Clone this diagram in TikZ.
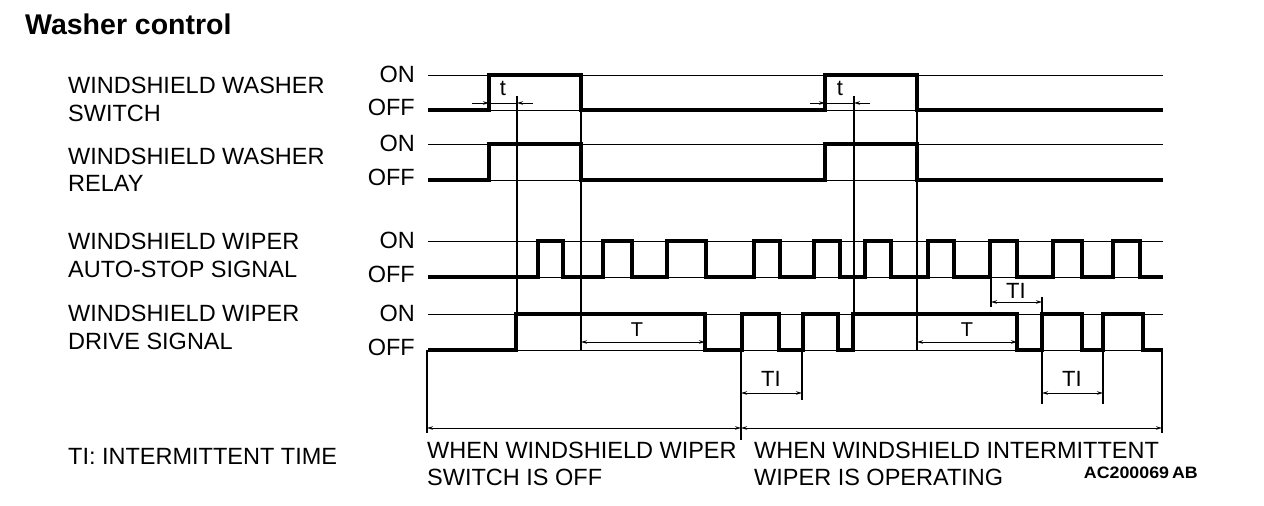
\documentclass[tikz,border=0pt]{standalone}
\usepackage{fontspec}
\setmainfont{Liberation Sans}
\usetikzlibrary{arrows.meta}
\begin{document}
\begin{tikzpicture}[x=1pt,y=-1pt,
  sig/.style={line width=3.3pt,line join=miter},
  refl/.style={line width=0.9pt},
  vline/.style={line width=1.3pt},
  dimarr/.style={line width=1pt,-{Stealth[length=6pt,width=3.5pt]}},
  dimboth/.style={line width=1pt,{Stealth[length=6pt,width=3.5pt]}-{Stealth[length=6pt,width=3.5pt]}},
  lbl/.style={inner sep=0pt,anchor=west,font=\fontsize{23.5}{28}\selectfont},
  lvl/.style={inner sep=0pt,anchor=east,font=\fontsize{23.5}{28}\selectfont},
  dimlbl/.style={inner sep=0pt,font=\fontsize{22}{26}\selectfont},
  Tlbl/.style={inner sep=0pt,font=\fontsize{20}{24}\selectfont}]
\path[use as bounding box,fill=white] (0,0) rectangle (1264,506);

% title
\node[inner sep=0pt,anchor=west,font=\bfseries\fontsize{28.5}{32}\selectfont] (title) at (25,24) {Washer control};

% left labels
\node[lbl] (l1a) at (68,85) {WINDSHIELD WASHER};
\node[lbl] (l1b) at (68,113) {SWITCH};
\node[lbl] (l2a) at (68,156) {WINDSHIELD WASHER};
\node[lbl] (l2b) at (68,183) {RELAY};
\node[lbl] (l3a) at (68,241) {WINDSHIELD WIPER};
\node[lbl] (l3b) at (68,269) {AUTO-STOP SIGNAL};
\node[lbl] (l4a) at (68,313) {WINDSHIELD WIPER};
\node[lbl] (l4b) at (68,341) {DRIVE SIGNAL};
\node[lbl] (legend) at (68,456) {TI: INTERMITTENT TIME};

% ON/OFF levels
\node[lvl] (on1) at (415,74) {ON};
\node[lvl] (off1) at (415,107) {OFF};
\node[lvl] (on2) at (415,143) {ON};
\node[lvl] (off2) at (415,177) {OFF};
\node[lvl] (on3) at (415,240) {ON};
\node[lvl] (off3) at (415,274) {OFF};
\node[lvl] (on4) at (415,313) {ON};
\node[lvl] (off4) at (415,347) {OFF};

% reference lines
\foreach \yy in {75,110,144,180,241,277,314,350}
  \draw[refl] (428,\yy) -- (1163,\yy);

% signals
\draw[sig] (428,110) -| (489,75) -| (581,110) -| (825,75) -| (917,110) -- (1163,110);
\draw[sig] (428,180) -| (489,144) -| (581,180) -| (825,144) -| (917,180) -- (1163,180);
\draw[sig] (428,277) -| (538,241) -| (563,277) -| (603,241) -| (632,277)
  -| (667,241) -| (706,277) -| (754,241) -| (780,277) -| (814,241) -| (840,277)
  -| (865,241) -| (891,277) -| (928,241) -| (954,277) -| (990,241) -| (1017,277)
  -| (1053,241) -| (1082,277) -| (1113,241) -| (1140,277) -- (1163,277);
\draw[sig] (428,350) -| (516,314) -| (705,350) -| (742,314) -| (779,350)
  -| (803,314) -| (838,350) -| (853,314) -| (1017,350) -| (1042,314)
  -| (1082,350) -| (1103,314) -| (1143,350) -- (1163,350);

% vertical construction lines
\draw[vline] (517,96) -- (517,350);
\draw[vline] (581,110) -- (581,350);
\draw[vline] (854,96) -- (854,350);
\draw[vline] (917,110) -- (917,350);
\draw[vline] (427,350) -- (427,433);
\draw[vline] (741,350) -- (741,440);
\draw[vline] (802,350) -- (802,400);
\draw[vline] (991,277) -- (991,307);
\draw[vline] (1042,297) -- (1042,404);
\draw[vline] (1103,350) -- (1103,404);
\draw[vline] (1162,350) -- (1162,433);

% t dimensions
\draw[line width=1pt] (489,103) -- (517,103);
\draw[dimarr] (472,103) -- (489,103);
\draw[dimarr] (533,103) -- (517,103);
\node[dimlbl] (t1) at (503,88) {t};
\draw[line width=1pt] (825,103) -- (854,103);
\draw[dimarr] (810,103) -- (825,103);
\draw[dimarr] (870,103) -- (854,103);
\node[dimlbl] (t2) at (840,88) {t};

% T dimensions
\draw[dimboth] (581,342) -- (705,342);
\node[Tlbl] (T1) at (637,330) {T};
\draw[dimboth] (917,342) -- (1017,342);
\node[Tlbl] (T2) at (967,330) {T};

% TI dimensions
\draw[dimboth] (991,302) -- (1042,302);
\node[dimlbl] (TI1) at (1016,291) {TI};
\draw[dimboth] (741,393) -- (802,393);
\node[dimlbl] (TI2) at (771,379) {TI};
\draw[dimboth] (1042,393) -- (1103,393);
\node[dimlbl] (TI3) at (1072,379) {TI};

% range dimensions
\draw[dimboth] (427,428) -- (741,428);
\draw[dimboth] (741,428) -- (1162,428);

% bottom texts
\node[lbl] (c1a) at (427,450) {WHEN WINDSHIELD WIPER};
\node[lbl] (c1b) at (427,477) {SWITCH IS OFF};
\node[lbl] (c2a) at (754,450) {WHEN WINDSHIELD INTERMITTENT};
\node[lbl] (c2b) at (754,477) {WIPER IS OPERATING};
\node[inner sep=0pt,anchor=east,font=\bfseries\fontsize{16.5}{20}\selectfont] (code) at (1198,473) {\scalebox{1.08}[1]{AC200069\,AB}};
\end{tikzpicture}
\end{document}
